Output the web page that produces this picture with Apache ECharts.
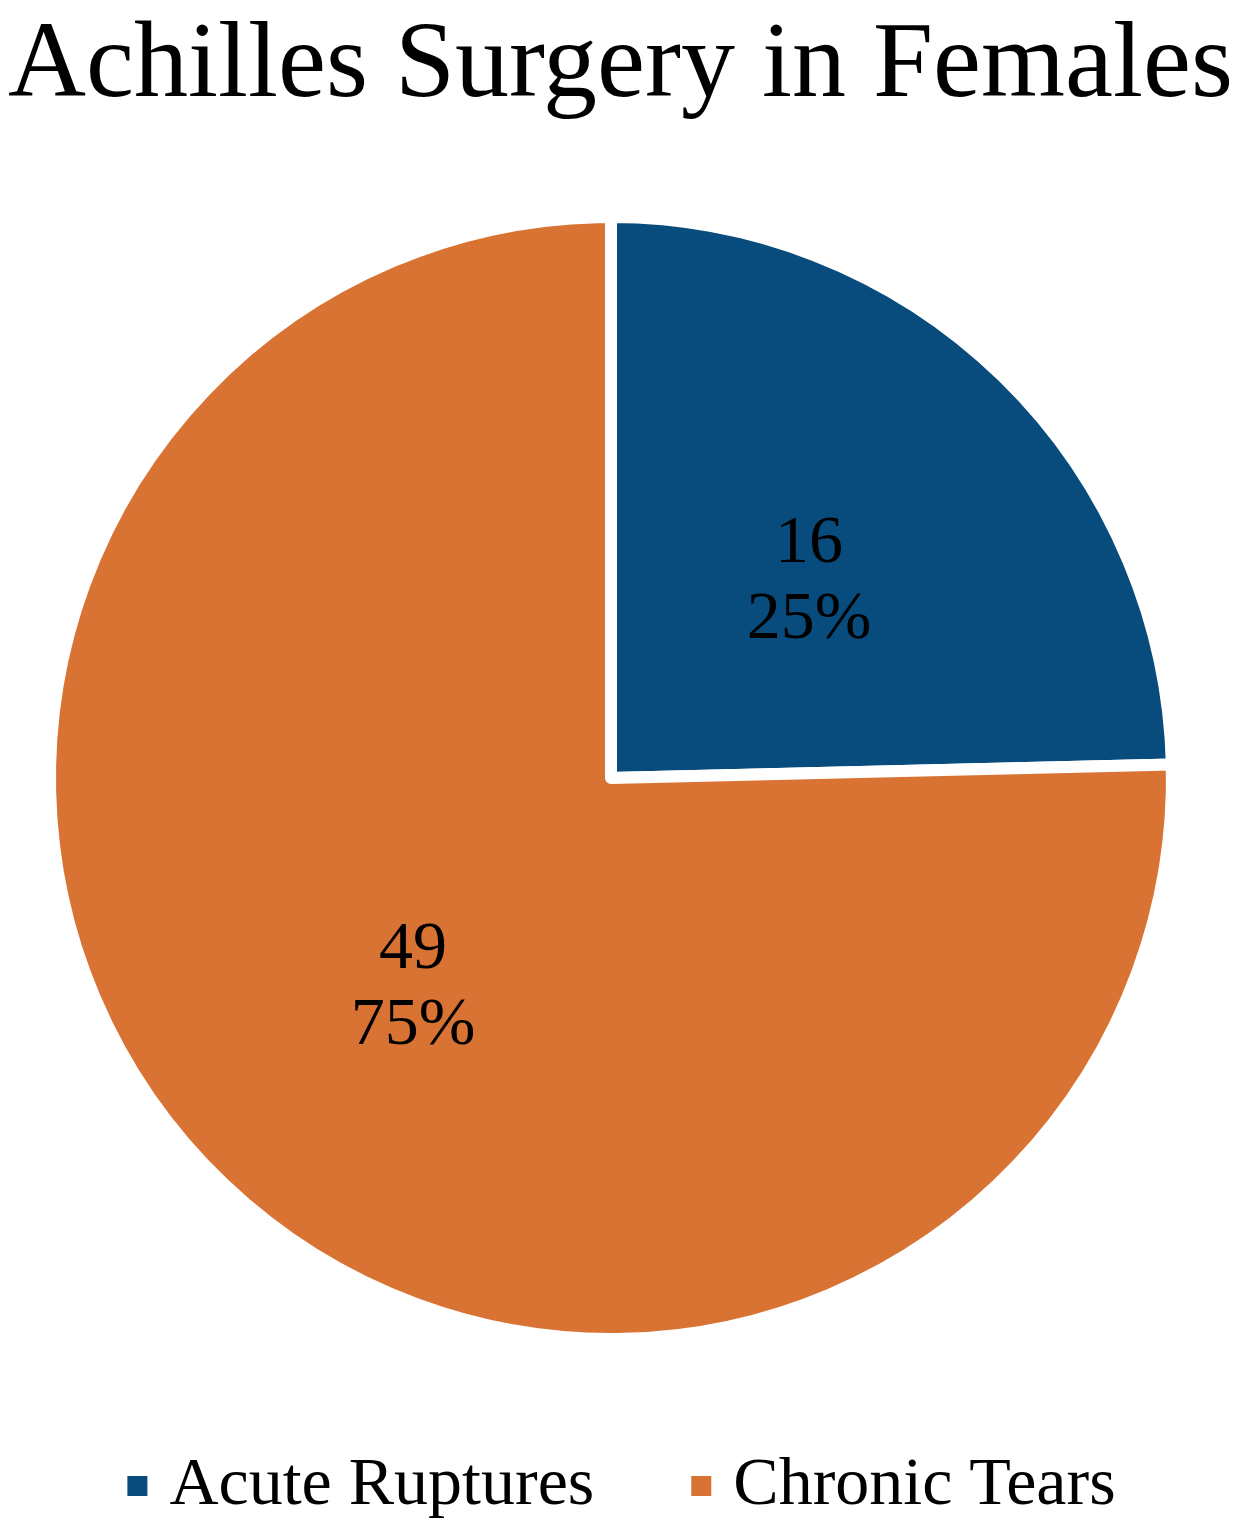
<!DOCTYPE html>
<html><head><meta charset="utf-8">
<script src="https://cdn.jsdelivr.net/npm/echarts@6/dist/echarts.min.js"></script>
<style>html,body{margin:0;padding:0;background:#fff}#c{width:1241px;height:1535px}</style>
</head><body><div id="c"></div>
<script>
const titleText = "Achilles Surgery in Females";
const categories = ["Acute Ruptures", "Chronic Tears"];
const values = [16, 49];
const colors = ["#074C7C", "#D97334"];

const chart = echarts.init(document.getElementById('c'), null, {renderer: 'canvas'});
const serif = '"Liberation Serif", "Times New Roman", serif';
chart.setOption({
  backgroundColor: '#ffffff',
  animation: false,
  title: {
    text: titleText, left: 'center', top: 9,
    textStyle: {fontFamily: serif, fontSize: 108, fontWeight: 'normal', color: '#000'}
  },
  legend: {
    data: categories, bottom: 10, left: 'center',
    icon: 'rect', itemWidth: 22, itemHeight: 22, itemGap: 95,
    textStyle: {fontFamily: serif, fontSize: 68, color: '#000', padding: [0,0,0,16]}
  },
  series: [{
    type: 'pie', center: [611, 778], radius: 561,
    startAngle: 90, clockwise: true,
    data: categories.map((n, i) => ({name: n, value: values[i], itemStyle: {color: colors[i]}})),
    itemStyle: {borderColor: '#fff', borderWidth: 12},
    label: {
      position: 'inside', fontFamily: serif, fontSize: 68, color: '#000', lineHeight: 76,
      offset: [0, 7],
      formatter: p => p.value + '\n' + Math.round(p.percent) + '%'
    },
    labelLine: {show: false},
    emphasis: {disabled: true}
  }]
});
</script></body></html>
